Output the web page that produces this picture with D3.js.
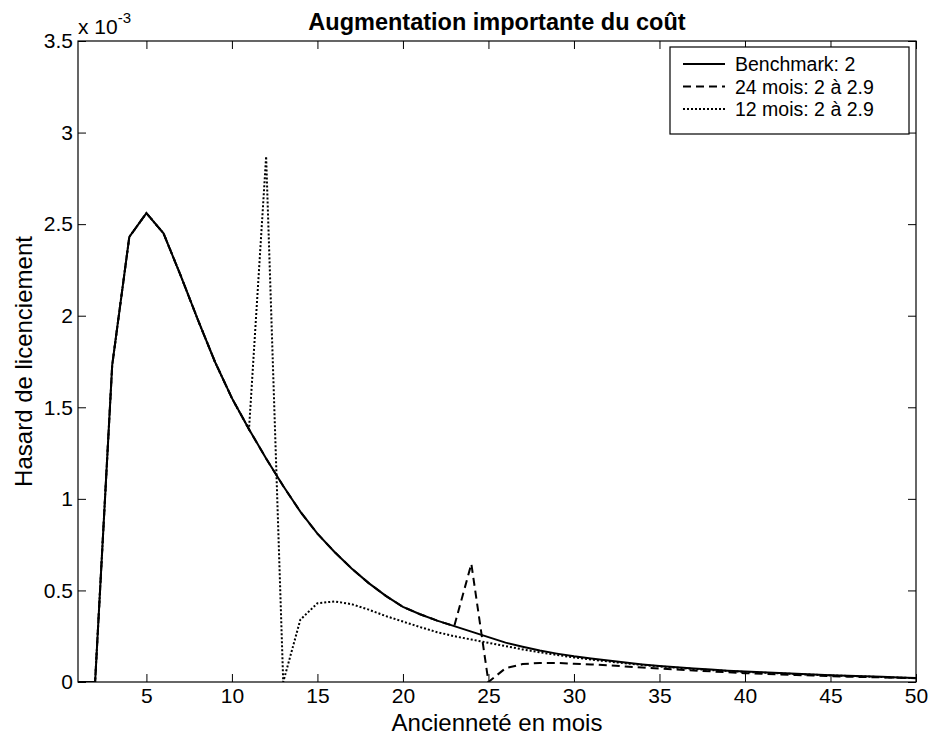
<!DOCTYPE html>
<html>
<head>
<meta charset="utf-8">
<script src="https://cdn.jsdelivr.net/npm/d3@7"></script>
<style>
  body { margin: 0; background: #fff; }
  text { font-family: "Liberation Sans", Arial, Helvetica, sans-serif; fill: #000; }
</style>
</head>
<body>
<div id="chart"></div>
<script>
// months of tenure
let months = [1, 2, 3, 4, 5, 6, 7, 8, 9, 10, 11, 12, 13, 14, 15, 16, 17, 18, 19, 20,
    21, 22, 23, 24, 25, 26, 27, 28, 29, 30, 31, 32, 33, 34, 35, 36, 37, 38, 39, 40,
    41, 42, 43, 44, 45, 46, 47, 48, 49, 50]

// hazard values, in units of 10^-3
let benchmark = [0, 0, 1.73, 2.43, 2.56, 2.45, 2.22, 1.98, 1.75, 1.55, 1.38, 1.22, 1.07, 0.93, 0.81, 0.71, 0.62, 0.54, 0.47, 0.41,
    0.37, 0.335, 0.305, 0.275, 0.245, 0.215, 0.193, 0.172, 0.155, 0.14, 0.128, 0.117, 0.106, 0.096, 0.088, 0.081, 0.074, 0.068, 0.062, 0.057,
    0.053, 0.049, 0.045, 0.041, 0.037, 0.034, 0.031, 0.028, 0.025, 0.022]
let rise24 = [0, 0, 1.73, 2.43, 2.56, 2.45, 2.22, 1.98, 1.75, 1.55, 1.38, 1.22, 1.07, 0.93, 0.81, 0.71, 0.62, 0.54, 0.47, 0.41,
    0.37, 0.335, 0.305, 0.645, 0, 0.075, 0.098, 0.104, 0.104, 0.1, 0.096, 0.091, 0.085, 0.079, 0.073, 0.068, 0.063, 0.058, 0.053, 0.048,
    0.045, 0.041, 0.038, 0.035, 0.032, 0.029, 0.027, 0.025, 0.023, 0.021]
let rise12 = [0, 0, 1.73, 2.43, 2.56, 2.45, 2.22, 1.98, 1.75, 1.55, 1.38, 2.87, 0, 0.34, 0.43, 0.44, 0.425, 0.395, 0.36, 0.33,
    0.3, 0.272, 0.25, 0.232, 0.214, 0.196, 0.178, 0.162, 0.148, 0.134, 0.123, 0.112, 0.102, 0.093, 0.085, 0.078, 0.071, 0.065, 0.06, 0.055,
    0.051, 0.047, 0.043, 0.04, 0.036, 0.033, 0.03, 0.027, 0.024, 0.021]

let xTicks = [5, 10, 15, 20, 25, 30, 35, 40, 45, 50]
let yTicks = [0, 0.5, 1, 1.5, 2, 2.5, 3, 3.5]
let seriesNames = ["Benchmark: 2", "24 mois: 2 à 2.9", "12 mois: 2 à 2.9"]

let W = 933, H = 742
let axLeft = 78, axRight = 916, axTop = 41, axBottom = 682

let svg = d3.select("#chart").append("svg")
    .attr("width", W)
    .attr("height", H)

let x = d3.scaleLinear().domain([1, 50]).range([axLeft, axRight])
let y = d3.scaleLinear().domain([0, 3.5]).range([axBottom, axTop])

svg.append("clipPath").attr("id", "clip")
    .append("rect")
    .attr("x", axLeft).attr("y", axTop)
    .attr("width", axRight - axLeft).attr("height", axBottom - axTop)

// axes: ticks point inwards, mirrored on top and right like matlab
let tickLen = 8
let bottomAxis = d3.axisBottom(x).tickValues(xTicks).tickSizeInner(-tickLen).tickSizeOuter(0).tickPadding(6)
let topAxis = d3.axisTop(x).tickValues(xTicks).tickSizeInner(-tickLen).tickSizeOuter(0).tickFormat("")
let leftAxis = d3.axisLeft(y).tickValues(yTicks).tickSizeInner(-tickLen).tickSizeOuter(0).tickPadding(5)
    .tickFormat(d3.format("~g"))
let rightAxis = d3.axisRight(y).tickValues(yTicks).tickSizeInner(-tickLen).tickSizeOuter(0).tickFormat("")

function styleAxis(g) {
    g.selectAll(".domain").remove()
    g.selectAll("line").attr("stroke", "#000").attr("stroke-width", 1)
    g.selectAll("text").style("font-size", "21px").attr("fill", "#000")
}

svg.append("g").attr("transform", "translate(0," + axBottom + ")").call(bottomAxis).call(styleAxis)
svg.append("g").attr("transform", "translate(0," + axTop + ")").call(topAxis).call(styleAxis)
svg.append("g").attr("transform", "translate(" + axLeft + ",0)").call(leftAxis).call(styleAxis)
svg.append("g").attr("transform", "translate(" + axRight + ",0)").call(rightAxis).call(styleAxis)

// box
svg.append("rect")
    .attr("x", axLeft).attr("y", axTop)
    .attr("width", axRight - axLeft).attr("height", axBottom - axTop)
    .attr("fill", "none")
    .attr("stroke", "#000")
    .attr("stroke-width", 1.2)

// lines
let line = d3.line()
    .x((d, i) => x(months[i]))
    .y(d => y(d))

let styles = [
    { data: benchmark, dash: null },
    { data: rise24, dash: "8,5" },
    { data: rise12, dash: "2,2" }
]

let plot = svg.append("g").attr("clip-path", "url(#clip)")
styles.forEach(function (s) {
    plot.append("path")
        .datum(s.data)
        .attr("d", line)
        .attr("fill", "none")
        .attr("stroke", "#000")
        .attr("stroke-width", 2)
        .attr("stroke-dasharray", s.dash)
})

// exponent label
let expo = svg.append("text")
    .attr("x", axLeft)
    .attr("y", 34)
    .style("font-size", "21px")
expo.append("tspan").text("x 10")
expo.append("tspan").attr("dy", -11).style("font-size", "15px").text("-3")

// title
svg.append("text")
    .attr("x", (axLeft + axRight) / 2)
    .attr("y", 30)
    .attr("text-anchor", "middle")
    .style("font-size", "23.5px")
    .style("font-weight", "bold")
    .text("Augmentation importante du coût")

// axis labels
svg.append("text")
    .attr("x", (axLeft + axRight) / 2)
    .attr("y", 731)
    .attr("text-anchor", "middle")
    .style("font-size", "24px")
    .text("Ancienneté en mois")

svg.append("text")
    .attr("transform", "translate(32," + (axTop + axBottom) / 2 + ") rotate(-90)")
    .attr("text-anchor", "middle")
    .style("font-size", "24px")
    .text("Hasard de licenciement")

// legend
let legX = 670, legY = 47, legW = 239, legH = 87
let rowGap = 22.5
let legend = svg.append("g")
legend.append("rect")
    .attr("x", legX).attr("y", legY)
    .attr("width", legW).attr("height", legH)
    .attr("fill", "#fff")
    .attr("stroke", "#000")
    .attr("stroke-width", 1.2)

seriesNames.forEach(function (name, i) {
    let cy = legY + 17 + i * rowGap
    legend.append("line")
        .attr("x1", legX + 13).attr("x2", legX + 55)
        .attr("y1", cy).attr("y2", cy)
        .attr("stroke", "#000")
        .attr("stroke-width", 2)
        .attr("stroke-dasharray", styles[i].dash)
    legend.append("text")
        .attr("x", legX + 65)
        .attr("y", cy + 7)
        .style("font-size", "19.5px")
        .text(name)
})
</script>
</body>
</html>
